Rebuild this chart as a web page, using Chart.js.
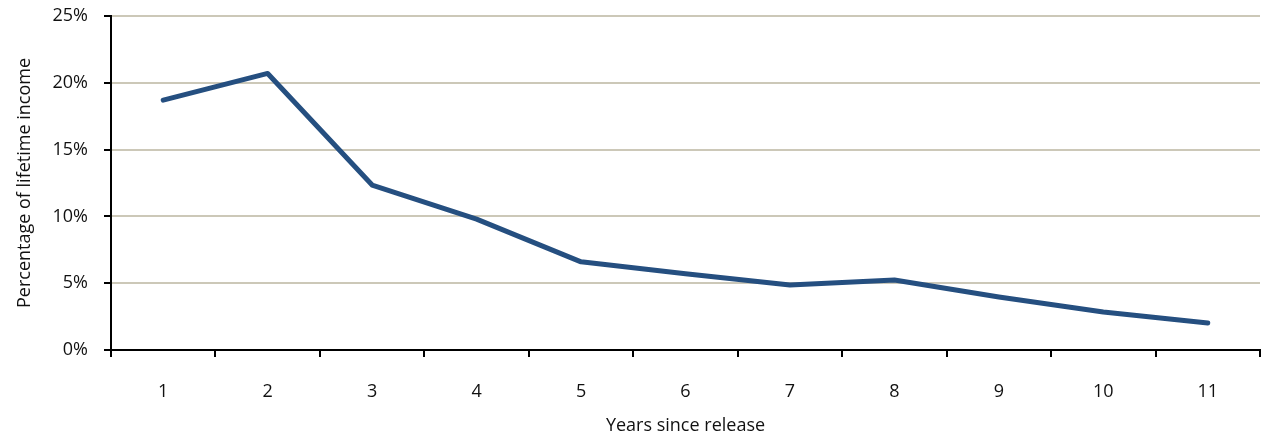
<!DOCTYPE html>
<html>
<head>
<meta charset="utf-8">
<script src="https://cdn.jsdelivr.net/npm/chart.js@4/dist/chart.umd.min.js"></script>
<style>
  html, body { margin: 0; padding: 0; background: #fff; }
  #wrap { width: 1262px; height: 434px; }
</style>
</head>
<body>
<div id="wrap"><canvas id="incomeChart"></canvas></div>
<script>
const years = ['1', '2', '3', '4', '5', '6', '7', '8', '9', '10', '11'];
const incomeShare = [18.7, 20.7, 12.35, 9.8, 6.6, 5.7, 4.87, 5.24, 3.97, 2.84, 2.02];
const yTicks = [0, 5, 10, 15, 20, 25];

const font = { family: '"Open Sans", sans-serif', size: 18 };

const ctx = document.getElementById('incomeChart').getContext('2d');

new Chart(ctx, {
    type: 'line',
    data: {
        labels: years,
        datasets: [{
            label: 'Percentage of lifetime income',
            data: incomeShare,
            borderColor: '#254f80',
            borderWidth: 5,
            pointRadius: 0,
            tension: 0,
            borderCapStyle: 'round',
            borderJoinStyle: 'round'
        }]
    },
    options: {
        responsive: true,
        maintainAspectRatio: false,
        animation: false,
        layout: { padding: { top: 16, right: 2, left: 0, bottom: 0 } },
        plugins: {
            legend: { display: false },
            tooltip: { enabled: false }
        },
        scales: {
            x: {
                offset: true,
                grid: {
                    offset: true,
                    drawOnChartArea: false,
                    color: '#000',
                    tickLength: 7,
                    lineWidth: 2
                },
                border: { color: '#000', width: 2 },
                ticks: { color: '#111', font: font, padding: 24, maxRotation: 0 },
                title: {
                    display: true,
                    text: 'Years since release',
                    color: '#111',
                    font: font,
                    padding: { top: 0, bottom: -3 }
                },
                afterFit: (scale) => { scale.height = 84; }
            },
            y: {
                min: 0,
                max: 25,
                afterBuildTicks: (scale) => {
                    scale.ticks = yTicks.map(v => ({ value: v }));
                },
                grid: {
                    color: '#ccc8b8',
                    lineWidth: 2,
                    tickColor: '#000',
                    tickLength: 7,
                    drawTicks: true
                },
                border: { color: '#000', width: 2 },
                ticks: {
                    color: '#111',
                    font: font,
                    padding: 16,
                    callback: (v) => v + '%'
                },
                title: {
                    display: true,
                    text: 'Percentage of lifetime income',
                    color: '#111',
                    font: font,
                    padding: { top: 14, bottom: 0 }
                },
                afterFit: (scale) => {
                    scale.width = 111;
                    scale.paddingTop = 0;
                    scale.paddingBottom = 0;
                }
            }
        }
    }
});
</script>
</body>
</html>
